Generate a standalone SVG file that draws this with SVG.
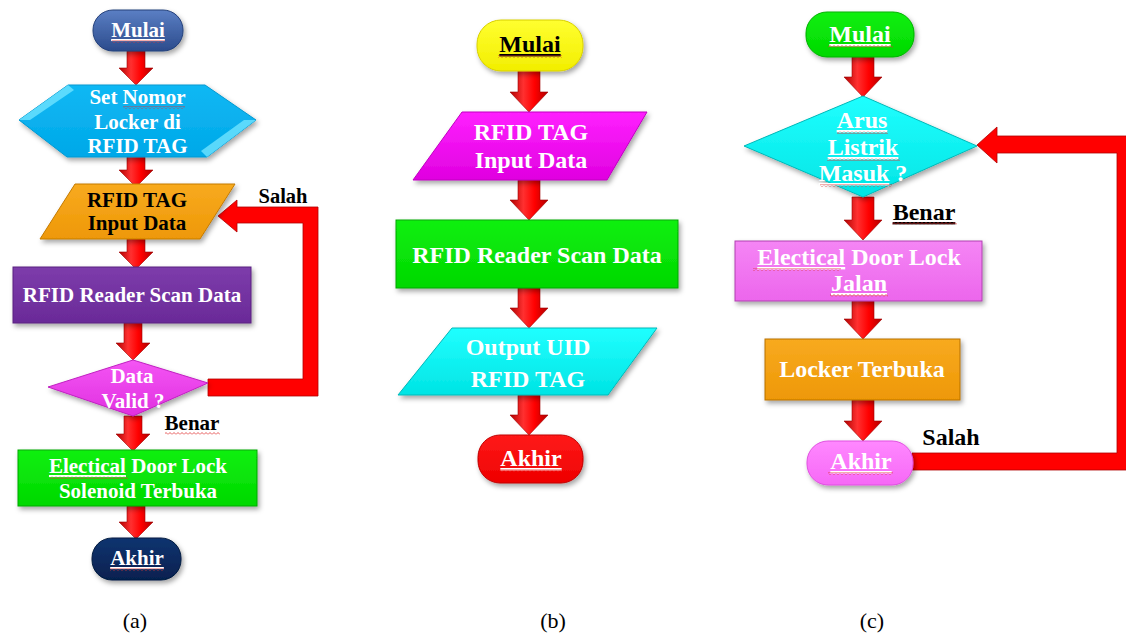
<svg xmlns="http://www.w3.org/2000/svg" width="1126" height="633" viewBox="0 0 1126 633">
<defs>
<style>
.t{font-family:"Liberation Serif","Times New Roman",serif;font-weight:bold;text-anchor:middle}
.w{fill:#ffffff}
.k{fill:#000000}
.a21{font-size:21px}
.a24{font-size:24px}
.lbl{font-family:"Liberation Serif","Times New Roman",serif;font-size:22px;fill:#000;text-anchor:middle}
.arrow{fill:url(#gArrow);stroke:#a00000;stroke-width:0.6}
.band{fill:#ff0000;stroke:#b00000;stroke-width:0.8}
.wave{fill:url(#wave)}
.sh{filter:url(#shadow)}
</style>
<filter id="shadow" x="-20%" y="-20%" width="140%" height="150%">
<feDropShadow dx="2" dy="3" stdDeviation="2.5" flood-color="#000" flood-opacity="0.35"/>
</filter>
<pattern id="wave" patternUnits="userSpaceOnUse" width="4" height="3">
<polyline points="0,2.5 2,0.5 4,2.5" fill="none" stroke="#e03030" stroke-width="0.8"/>
</pattern>
<linearGradient id="gArrow" x1="0" y1="0" x2="1" y2="0">
<stop offset="0" stop-color="#b00000"/><stop offset="0.35" stop-color="#ff3030"/><stop offset="0.65" stop-color="#ff0000"/><stop offset="1" stop-color="#b00000"/>
</linearGradient>
<linearGradient id="gBlue" x1="0" y1="0" x2="0" y2="1"><stop offset="0" stop-color="#5b7fc4"/><stop offset="1" stop-color="#2b4b8c"/></linearGradient>
<linearGradient id="gHex" x1="0" y1="0" x2="0" y2="1"><stop offset="0" stop-color="#10b8f4"/><stop offset="1" stop-color="#00a8e8"/></linearGradient>
<linearGradient id="gOrange" x1="0" y1="0" x2="0" y2="1"><stop offset="0" stop-color="#f8aa20"/><stop offset="1" stop-color="#ee9806"/></linearGradient>
<linearGradient id="gPurple" x1="0" y1="0" x2="0" y2="1"><stop offset="0" stop-color="#7d3cab"/><stop offset="1" stop-color="#6a2a98"/></linearGradient>
<linearGradient id="gMag" x1="0" y1="0" x2="0" y2="1"><stop offset="0" stop-color="#f455f4"/><stop offset="1" stop-color="#e030e0"/></linearGradient>
<linearGradient id="gGreen" x1="0" y1="0" x2="0" y2="1"><stop offset="0" stop-color="#10f010"/><stop offset="1" stop-color="#00d800"/></linearGradient>
<linearGradient id="gNavy" x1="0" y1="0" x2="0" y2="1"><stop offset="0" stop-color="#113470"/><stop offset="1" stop-color="#06214f"/></linearGradient>
<linearGradient id="gYellow" x1="0" y1="0" x2="0" y2="1"><stop offset="0" stop-color="#ffff30"/><stop offset="1" stop-color="#f2ee00"/></linearGradient>
<linearGradient id="gMag2" x1="0" y1="0" x2="0" y2="1"><stop offset="0" stop-color="#ff20ff"/><stop offset="1" stop-color="#e000e0"/></linearGradient>
<linearGradient id="gCyan" x1="0" y1="0" x2="0" y2="1"><stop offset="0" stop-color="#20ffff"/><stop offset="1" stop-color="#00e4e4"/></linearGradient>
<linearGradient id="gRed" x1="0" y1="0" x2="0" y2="1"><stop offset="0" stop-color="#ff1a1a"/><stop offset="1" stop-color="#ee0000"/></linearGradient>
<linearGradient id="gPink" x1="0" y1="0" x2="0" y2="1"><stop offset="0" stop-color="#f585f5"/><stop offset="1" stop-color="#ec66ec"/></linearGradient>
<linearGradient id="gPink2" x1="0" y1="0" x2="0" y2="1"><stop offset="0" stop-color="#ff88ff"/><stop offset="1" stop-color="#f668f6"/></linearGradient>
</defs>
<rect width="1126" height="633" fill="#ffffff"/>

<g id="connectors">
<path class="arrow" d="M127 51 H145 V68 H153 L136 85 L119 68 H127 Z"/>
<path class="arrow" d="M127 155 H145 V170 H153 L136 187 L119 170 H127 Z"/>
<path class="arrow" d="M127 239 H145 V252 H153 L136 269 L119 252 H127 Z"/>
<path class="arrow" d="M124 323 H142 V343 H150 L133 360 L116 343 H124 Z"/>
<path class="arrow" d="M124 416 H142 V434 H150 L133 451 L116 434 H124 Z"/>
<path class="arrow" d="M127 506 H145 V522 H153 L136 539 L119 522 H127 Z"/>
<path class="band" d="M208 379 H303 V223 H237 V232 L218 216 L237 200 V207 H318 V396 H208 Z"/>
<path class="arrow" d="M518 70 H540 V92 H548 L529 112 L510 92 H518 Z"/>
<path class="arrow" d="M518 180 H540 V200 H548 L529 220 L510 200 H518 Z"/>
<path class="arrow" d="M518 288 H540 V308 H548 L529 328 L510 308 H518 Z"/>
<path class="arrow" d="M518 395 H540 V415 H548 L529 435 L510 415 H518 Z"/>
<path class="arrow" d="M852 57 H874 V77 H882 L863 97 L844 77 H852 Z"/>
<path class="arrow" d="M852 197 H874 V220 H882 L863 240 L844 220 H852 Z"/>
<path class="arrow" d="M852 301 H874 V319 H882 L863 339 L844 319 H852 Z"/>
<path class="arrow" d="M852 400 H874 V421 H882 L863 441 L844 421 H852 Z"/>
<path class="band" d="M912 453 H1117 V153 H997 V163 L977 145 L997 127 V136 H1134 V470 H912 Z"/>
<text class="t k" x="283" y="203" font-size="20.5">Salah</text>
<text class="t k" x="192" y="430" font-size="21">Benar</text>
<rect class="wave" x="165" y="432" width="55" height="3"/>
<text class="t k a24" x="924" y="220" text-decoration="underline">Benar</text>
<rect class="wave" x="892" y="222" width="65" height="3"/>
<text class="t k a24" x="951" y="445">Salah</text>
</g>

<!-- Panel (a) -->
<g id="a-mulai">
<rect class="sh" x="93" y="10" width="90" height="41" rx="20" fill="url(#gBlue)" stroke="#24407a" stroke-width="1"/>
<text class="t w a21" x="138" y="37" text-decoration="underline">Mulai</text>
<rect class="wave" x="112" y="40" width="53" height="3"/>
</g>
<g id="a-set">
<polygon class="sh" points="19,120 68,85 205,85 256,120 207,157 67,157" fill="url(#gHex)" stroke="#0098d0" stroke-width="1"/>
<polygon points="19,120 68,85 74,90 30,120" fill="#6fe4ff" opacity="0.8"/>
<polygon points="256,120 207,157 201,151 244,120" fill="#6fe4ff" opacity="0.8"/>
<text class="t w a21" x="137.5" y="104">Set Nomor</text>
<text class="t w a21" x="137.5" y="129">Locker di</text>
<text class="t w a21" x="137.5" y="153">RFID TAG</text>
<rect class="wave" x="123" y="106" width="62" height="3"/>
</g>
<g id="a-input">
<polygon class="sh" points="75,184 235,184 200,239 40,239" fill="url(#gOrange)" stroke="#c47a00" stroke-width="1"/>
<text class="t k a21" x="137" y="207">RFID TAG</text>
<text class="t k a21" x="137" y="230">Input Data</text>
</g>
<g id="a-scan">
<rect class="sh" x="13" y="267" width="238" height="56" fill="url(#gPurple)" stroke="#5a2080" stroke-width="1"/>
<text class="t w a21" x="132" y="302">RFID Reader Scan Data</text>
</g>
<g id="a-valid">
<polygon class="sh" points="48,387 133,360 208,383 133,416" fill="url(#gMag)" stroke="#c020c0" stroke-width="1"/>
<text class="t w a21" x="132" y="383">Data</text>
<text class="t w a21" x="133" y="408">Valid ?</text>
</g>
<g id="a-door">
<rect class="sh" x="18" y="450" width="239" height="56" fill="url(#gGreen)" stroke="#00a800" stroke-width="1"/>
<text class="t w a21" x="138" y="473"><tspan text-decoration="underline">Electical</tspan> Door Lock</text>
<text class="t w a21" x="138" y="498">Solenoid Terbuka</text>
<rect class="wave" x="50" y="476" width="78" height="3"/>
</g>
<g id="a-akhir">
<rect class="sh" x="92" y="538" width="89" height="42" rx="20" fill="url(#gNavy)" stroke="#041a40" stroke-width="1"/>
<text class="t w a21" x="137" y="565" text-decoration="underline">Akhir</text>
<rect class="wave" x="110" y="568" width="54" height="3"/>
</g>
<text class="lbl" x="135" y="628">(a)</text>

<!-- Panel (b) -->
<g id="b-mulai">
<rect class="sh" x="477" y="20" width="106" height="51" rx="24" fill="url(#gYellow)" stroke="#d8d000" stroke-width="1"/>
<text class="t k a24" x="530" y="52" text-decoration="underline">Mulai</text>
<rect class="wave" x="498" y="55" width="64" height="3"/>
</g>
<g id="b-input">
<polygon class="sh" points="462,112 647,112 607,180 413,180" fill="url(#gMag2)" stroke="#c000c0" stroke-width="1"/>
<text class="t w a24" x="531" y="140">RFID TAG</text>
<text class="t w a24" x="531" y="168">Input Data</text>
</g>
<g id="b-scan">
<rect class="sh" x="396" y="220" width="282" height="68" fill="url(#gGreen)" stroke="#00a800" stroke-width="1"/>
<text class="t w a24" x="537" y="263">RFID Reader Scan Data</text>
</g>
<g id="b-output">
<polygon class="sh" points="452,328 657,328 608,395 398,395" fill="url(#gCyan)" stroke="#00b8b8" stroke-width="1"/>
<text class="t w a24" x="528" y="355">Output UID</text>
<text class="t w a24" x="528" y="387">RFID TAG</text>
</g>
<g id="b-akhir">
<rect class="sh" x="478" y="435" width="105" height="48" rx="22" fill="url(#gRed)" stroke="#c00000" stroke-width="1"/>
<text class="t w a24" x="531" y="466" text-decoration="underline">Akhir</text>
<rect class="wave" x="500" y="469" width="62" height="3"/>
</g>
<text class="lbl" x="553" y="628">(b)</text>

<!-- Panel (c) -->
<g id="c-mulai">
<rect class="sh" x="806" y="12" width="108" height="45" rx="21" fill="url(#gGreen)" stroke="#00b000" stroke-width="1"/>
<text class="t w a24" x="860" y="42" text-decoration="underline">Mulai</text>
<rect class="wave" x="828" y="45" width="65" height="3"/>
</g>
<g id="c-arus">
<polygon class="sh" points="744,146 863,96 977,146 863,197" fill="url(#gCyan)" stroke="#00b8b8" stroke-width="1"/>
<text class="t w a24" x="862" y="128" text-decoration="underline">Arus</text>
<text class="t w a24" x="863" y="155" text-decoration="underline">Listrik</text>
<text class="t w a24" x="863" y="181"><tspan text-decoration="underline">Masuk</tspan> ?</text>
<rect class="wave" x="837" y="131" width="51" height="3"/>
<rect class="wave" x="827" y="158" width="73" height="3"/>
<rect class="wave" x="820" y="184" width="72" height="3"/>
</g>
<g id="c-door">
<rect class="sh" x="735" y="241" width="247" height="60" fill="url(#gPink)" stroke="#b040b0" stroke-width="1"/>
<text class="t w a24" x="859" y="265"><tspan text-decoration="underline">Electical</tspan> Door Lock</text>
<text class="t w a24" x="859" y="291" text-decoration="underline">Jalan</text>
<rect class="wave" x="753" y="268" width="88" height="3"/>
<rect class="wave" x="830" y="294" width="58" height="3"/>
</g>
<g id="c-locker">
<rect class="sh" x="765" y="339" width="195" height="61" fill="url(#gOrange)" stroke="#b87000" stroke-width="1"/>
<text class="t w a24" x="862" y="377">Locker Terbuka</text>
</g>
<g id="c-akhir">
<rect class="sh" x="807" y="441" width="106" height="44" rx="21" fill="url(#gPink2)" stroke="#e050e0" stroke-width="1"/>
<text class="t w a24" x="861" y="469" text-decoration="underline">Akhir</text>
<rect class="wave" x="828" y="472" width="65" height="3"/>
</g>
<text class="lbl" x="872" y="628">(c)</text>
</svg>
